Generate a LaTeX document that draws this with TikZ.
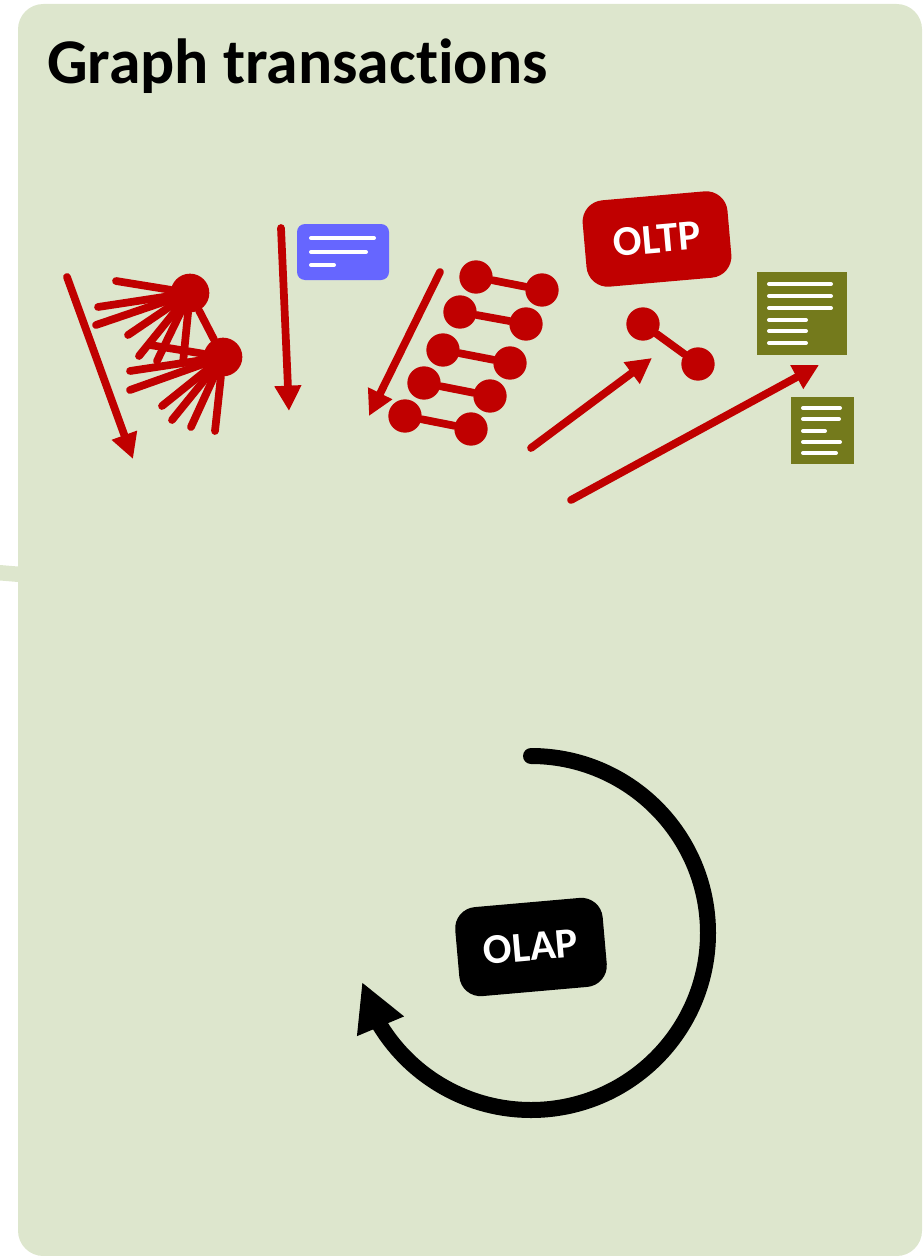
\documentclass[tikz,border=0pt]{standalone}
\usepackage{fontspec}
\setmainfont[Ligatures=NoCommon]{Carlito}
\usetikzlibrary{arrows.meta}
\definecolor{panelgreen}{HTML}{DDE6CD}
\definecolor{oltpred}{HTML}{C00000}
\definecolor{noteblue}{HTML}{6666FF}
\definecolor{docolive}{HTML}{747A1C}
\tikzset{
  dot/.style={circle,fill=oltpred,inner sep=0pt,minimum size=25pt},
  spoke/.style={draw=oltpred,line width=5.8pt,line cap=round},
  flow/.style={draw=oltpred,line width=5.8pt,line cap=round,-{Triangle[length=19pt,width=19pt]}},
  textline/.style={draw=white,line width=3pt,line cap=round},
  badge/.style={rotate=5,text=white,font=\bfseries\fontsize{31.8pt}{32pt}\selectfont,rounded corners=16pt,inner sep=0pt}
}
\begin{document}
\begin{tikzpicture}[x=0.75pt,y=-0.75pt]
  \useasboundingbox (0,0) rectangle (922,1256);
  \fill[panelgreen] (0,565) -- (18,566.5) -- (18,582) -- (0,580.5) -- cycle;
  \fill[panelgreen,rounded corners=19pt] (18,4) rectangle (922,1256);
  \node[anchor=base west,inner sep=0pt,font=\bfseries\fontsize{47.8pt}{48pt}\selectfont] (title) at (47,83.5) {Graph transactions};

  \node[dot,minimum size=29pt] (huba) at (190,293) {};
  \node[dot,minimum size=29pt] (hubb) at (223,357) {};
  \draw[spoke] (huba) -- (hubb);
  \foreach \n/\px/\py in {a/116/281,b/98/307,c/96/325,d/128/335,e/139/356,f/157/361,g/183/363} {
    \coordinate (spoke\n) at (\px,\py);
    \draw[spoke] (huba) -- (spoke\n);
  }
  \foreach \n/\px/\py in {h/150/345,i/130/371,j/130/390,k/162/406,l/172/420,m/191/427,o/215/431} {
    \coordinate (spoke\n) at (\px,\py);
    \draw[spoke] (hubb) -- (spoke\n);
  }

  \fill[noteblue,rounded corners=6pt] (297,224) rectangle (389,280);
  \draw[textline] (311,238) -- (374,238);
  \draw[textline] (311,252) -- (366,252);
  \draw[textline] (311,265) -- (334,265);

  \foreach \n/\ax/\ay/\bx/\by in {a/476/277/542/290,b/460/312/526/324,c/443/350/510/363,d/424/383/490/396,e/405/416/471/429,f/643/324/698/364} {
    \node[dot] (left\n) at (\ax,\ay) {};
    \node[dot] (right\n) at (\bx,\by) {};
    \draw[spoke] (left\n) -- (right\n);
  }

  \node[badge,fill=oltpred,minimum width=109pt,minimum height=65pt] (oltp) at (657,239) {OLTP};

  \fill[docolive] (757,272) rectangle (847,355);
  \foreach \ly/\lx in {284/831,296/831,308/831,320/806,331/806,343/806}
    \draw[textline] (769,\ly) -- (\lx,\ly);
  \fill[docolive] (791,397) rectangle (854,464);
  \foreach \ly/\lx in {408/840,419/839,431/825,442/840,453/836}
    \draw[textline] (803,\ly) -- (\lx,\ly);

  \foreach \n/\ax/\ay/\bx/\by in {a/67/277/133/459,b/281/228/289/411,c/440/272/369/416,d/531/448/652/358,e/571/500/819/365} {
    \coordinate (from\n) at (\ax,\ay);
    \coordinate (to\n) at (\bx,\by);
    \draw[flow] (from\n) -- (to\n);
  }

  \node[badge,fill=black,minimum width=111pt,minimum height=67pt] (olap) at (531,947) {OLAP};
  \coordinate (cyclestart) at (531,756);
  \coordinate (cycletip) at (362,982);
  \draw[line width=12pt,line cap=round,-{Triangle[length=36pt,width=35.5pt]}]
    (cyclestart) arc[start angle=-90,end angle=148.3,radius=177] -- (cycletip);
\end{tikzpicture}
\end{document}
